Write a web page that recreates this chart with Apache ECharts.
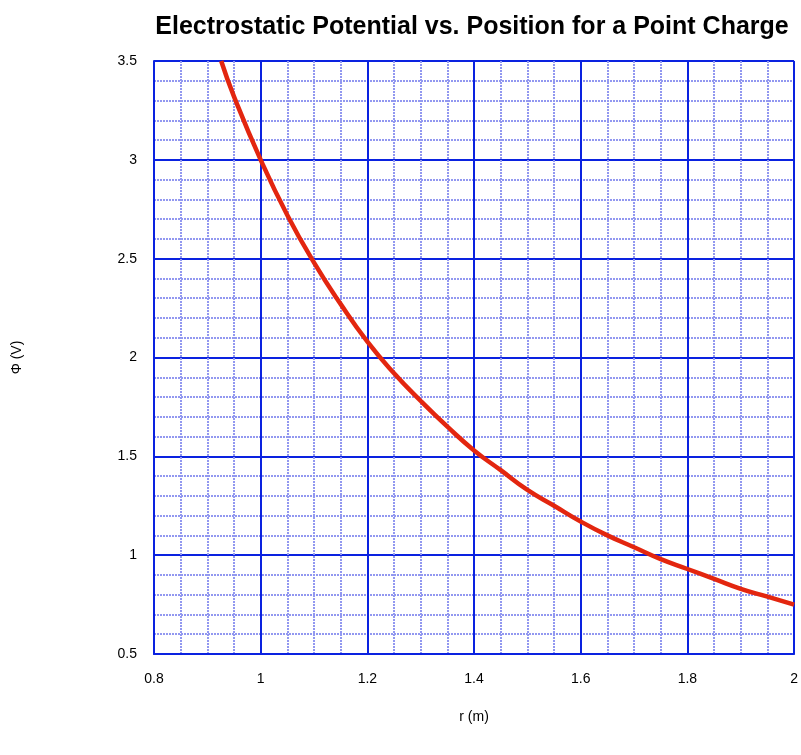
<!DOCTYPE html>
<html>
<head>
<meta charset="utf-8">
<script src="https://cdn.jsdelivr.net/npm/echarts@6/dist/echarts.min.js"></script>
<style>
  html, body { margin: 0; padding: 0; background: #fff; }
  #chart { width: 801px; height: 755px; }
</style>
</head>
<body>
<div id="chart"></div>
<script>
// positions r (m) and potential values
const radius = [0.926, 0.95, 1.0, 1.05, 1.1, 1.15, 1.2, 1.25, 1.3, 1.35, 1.4, 1.45,
  1.5, 1.55, 1.6, 1.65, 1.7, 1.75, 1.8, 1.85, 1.9, 1.95, 2.0];
const potential = [3.50, 3.32, 3.00, 2.72, 2.48, 2.27, 2.08, 1.92, 1.78, 1.65, 1.53, 1.43,
  1.33, 1.25, 1.17, 1.10, 1.04, 0.98, 0.93, 0.88, 0.83, 0.79, 0.75];

const font = "'Liberation Sans', Arial, Helvetica, sans-serif";
const majorBlue = "#0a22e0";
const minorBlue = "#9298f0";

const chart = echarts.init(document.getElementById("chart"));
chart.setOption({
  animation: false,
  title: {
    text: "Electrostatic Potential vs. Position for a Point Charge",
    left: 467,
    top: 10,
    textAlign: "center",
    textStyle: { fontFamily: font, fontSize: 25, fontWeight: "bold", color: "#000" }
  },
  grid: { left: 154, right: 6, top: 61, bottom: 101 },
  xAxis: {
    type: "value",
    min: 0.8,
    max: 2,
    interval: 0.2,
    name: "r (m)",
    nameLocation: "middle",
    nameGap: 56,
    nameTextStyle: { fontFamily: font, fontSize: 14, color: "#000" },
    axisLine: { show: true, onZero: false, lineStyle: { color: majorBlue, width: 2 } },
    axisTick: { show: false },
    axisLabel: { fontFamily: font, fontSize: 14, color: "#000", margin: 18 },
    splitLine: { show: true, lineStyle: { color: majorBlue, width: 2 } },
    minorTick: { show: false, splitNumber: 4 },
    minorSplitLine: { show: true, lineStyle: { color: minorBlue, width: 2, type: [2, 1] } }
  },
  yAxis: {
    type: "value",
    min: 0.5,
    max: 3.5,
    interval: 0.5,
    name: "Φ (V)",
    nameLocation: "middle",
    nameGap: 130,
    nameRotate: 90,
    nameTextStyle: { fontFamily: font, fontSize: 14, color: "#000" },
    axisLine: { show: true, onZero: false, lineStyle: { color: majorBlue, width: 2 } },
    axisTick: { show: false },
    axisLabel: { fontFamily: font, fontSize: 14, color: "#000", margin: 17 },
    splitLine: { show: true, lineStyle: { color: majorBlue, width: 2 } },
    minorTick: { show: false, splitNumber: 5 },
    minorSplitLine: { show: true, lineStyle: { color: minorBlue, width: 2, type: [2, 1] } }
  },
  series: [
    {
      type: "line",
      data: radius.map((r, i) => [r, potential[i]]),
      smooth: true,
      showSymbol: false,
      lineStyle: { color: "#e3260f", width: 4.5 },
      z: 5
    }
  ]
});
</script>
</body>
</html>
